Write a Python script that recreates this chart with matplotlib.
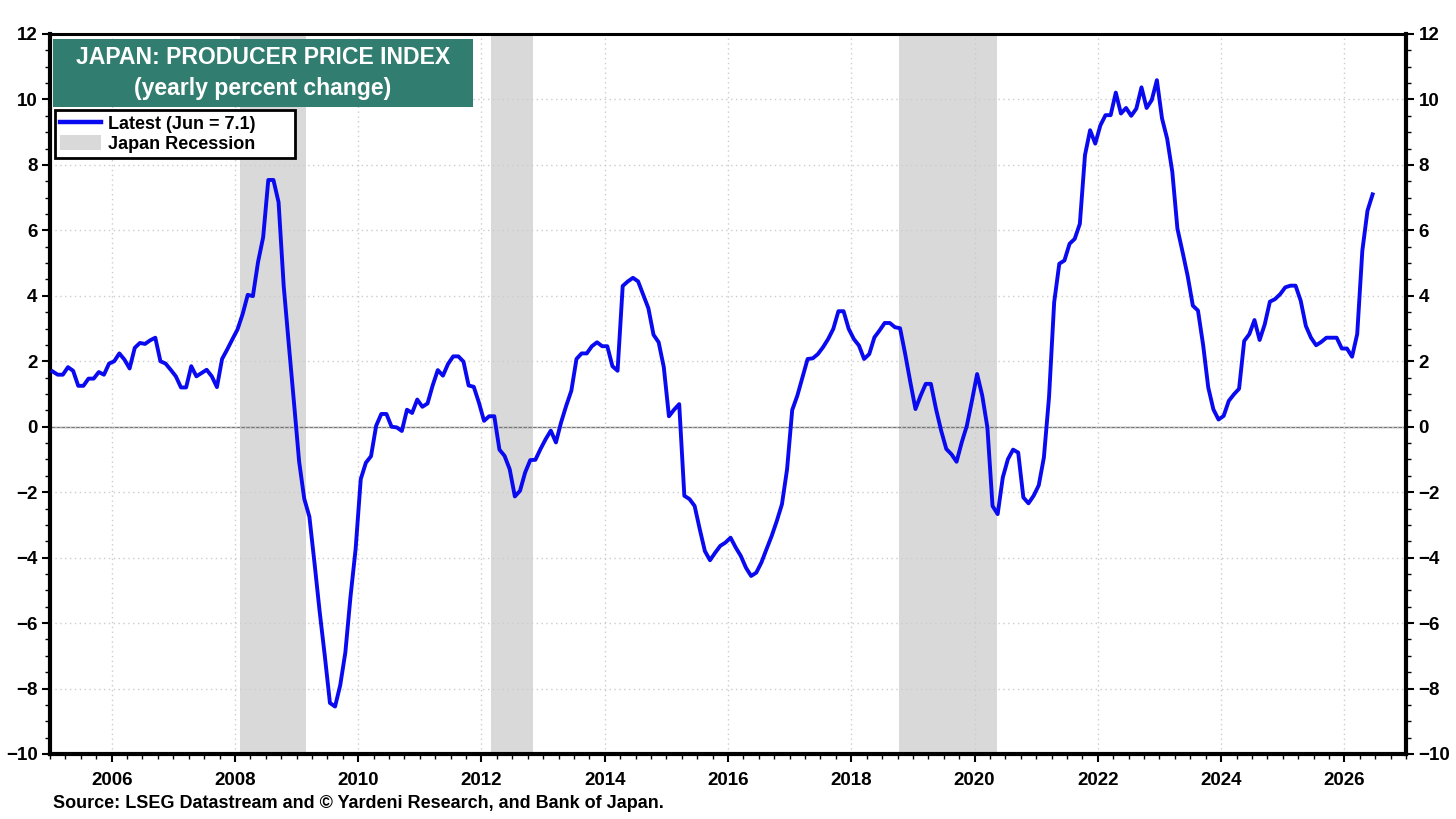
import numpy as np
import matplotlib
matplotlib.use("Agg")
import matplotlib.pyplot as plt
from matplotlib.patches import Patch, Rectangle
from matplotlib.lines import Line2D
from matplotlib.ticker import MultipleLocator

plt.rcParams["font.family"] = ["Liberation Sans", "DejaVu Sans"]
plt.rcParams["font.weight"] = "bold"

# monthly yearly % change, Jan 2005 .. Jun 2026
start_year = 2005
ppi_yoy = [
  1.69, 1.59, 1.59, 1.82, 1.71, 1.25, 1.25, 1.47, 1.47, 1.67, 1.59, 1.93,
  2.00, 2.24, 2.05, 1.78, 2.41, 2.56, 2.53, 2.64, 2.72, 2.00, 1.93, 1.74,
  1.54, 1.20, 1.20, 1.85, 1.54, 1.64, 1.74, 1.54, 1.21, 2.07, 2.36, 2.67,
  2.97, 3.44, 4.03, 3.99, 5.03, 5.79, 7.54, 7.54, 6.86, 4.30, 2.50, 0.74,
  -1.06, -2.20, -2.75, -4.17, -5.65, -7.00, -8.44, -8.55, -7.90, -6.90, -5.20, -3.74,
  -1.60, -1.10, -0.90, 0.03, 0.39, 0.39, 0.00, -0.02, -0.13, 0.52, 0.42, 0.83,
  0.61, 0.71, 1.26, 1.73, 1.56, 1.92, 2.15, 2.15, 1.99, 1.26, 1.22, 0.74,
  0.18, 0.32, 0.32, -0.70, -0.89, -1.30, -2.13, -1.96, -1.40, -1.02, -1.01, -0.68,
  -0.38, -0.12, -0.48, 0.13, 0.64, 1.10, 2.07, 2.24, 2.24, 2.46, 2.58, 2.46,
  2.46, 1.85, 1.71, 4.30, 4.44, 4.55, 4.44, 4.03, 3.62, 2.81, 2.58, 1.82,
  0.32, 0.52, 0.69, -2.11, -2.21, -2.42, -3.13, -3.80, -4.08, -3.85, -3.64, -3.54,
  -3.39, -3.69, -3.95, -4.31, -4.56, -4.46, -4.15, -3.74, -3.34, -2.88, -2.37, -1.30,
  0.51, 0.95, 1.51, 2.07, 2.09, 2.22, 2.43, 2.68, 2.99, 3.53, 3.53, 2.99,
  2.68, 2.48, 2.07, 2.22, 2.73, 2.94, 3.17, 3.17, 3.04, 3.01, 2.22, 1.36,
  0.54, 0.95, 1.31, 1.31, 0.54, -0.12, -0.68, -0.84, -1.07, -0.48, 0.03, 0.80,
  1.61, 0.95, -0.02, -2.42, -2.67, -1.55, -0.99, -0.70, -0.79, -2.16, -2.34, -2.11,
  -1.79, -0.94, 0.90, 3.80, 4.98, 5.08, 5.59, 5.74, 6.20, 8.30, 9.06, 8.65,
  9.21, 9.52, 9.52, 10.21, 9.57, 9.74, 9.50, 9.72, 10.37, 9.74, 9.98, 10.59,
  9.42, 8.80, 7.79, 6.05, 5.34, 4.60, 3.70, 3.55, 2.50, 1.20, 0.53, 0.22,
  0.33, 0.79, 0.99, 1.16, 2.62, 2.83, 3.26, 2.65, 3.13, 3.82, 3.90, 4.05,
  4.26, 4.31, 4.31, 3.85, 3.08, 2.72, 2.49, 2.59, 2.72, 2.72, 2.72, 2.39,
  2.39, 2.14, 2.83, 5.38, 6.60, 7.10,
]

# recession periods (decimal years)
recession_start = [2008.08, 2012.16, 2018.78]
recession_end = [2009.15, 2012.83, 2020.36]

year_ticks = list(range(2006, 2027, 2))
y_ticks = list(range(-10, 13, 2))

x = start_year + (np.arange(len(ppi_yoy)) + 0.5) / 12.0

W, H = 1456, 819
fig = plt.figure(figsize=(W / 100, H / 100), dpi=100)
ax = fig.add_axes([50 / W, 1 - 754 / H, 1356 / W, 720 / H])

def px(xp, yp):
  # figure pixel -> axes fraction
  return (xp - 50) / 1356, (754 - yp) / 720

for s, e in zip(recession_start, recession_end):
  ax.axvspan(s, e, color="#d9d9d9", lw=0, zorder=0)

ax.axhline(0, color="#777777", lw=1.0, zorder=1)
ax.plot(x, ppi_yoy, color="#0a0af0", lw=2.8, zorder=3, solid_joinstyle="round")

ax.set_xlim(2005, 2027)
ax.set_ylim(-10, 12)
ax.set_xticks(year_ticks)
ax.xaxis.set_minor_locator(MultipleLocator(0.25))
ax.set_yticks(y_ticks)
ax.yaxis.set_minor_locator(MultipleLocator(0.5))
ax.grid(True, which="major", color="#cccccc", ls=(0, (1, 2.5)), lw=1.0, zorder=0)

ax.tick_params(axis="both", which="major", labelsize=13.5, width=1.5, length=6, direction="out")
ax.tick_params(axis="both", which="minor", width=1.0, length=3.5, direction="out")
ax.tick_params(axis="y", which="both", left=True, right=True, labelleft=True, labelright=True, pad=3)
ax.tick_params(axis="x", which="major", pad=7)
for lab in ax.get_xticklabels() + ax.get_yticklabels():
  lab.set_fontweight("bold")
for lab in ax.yaxis.get_ticklabels(which="major"):
  lab.set_fontweight("bold")

for side, w in [("left", 3.0), ("bottom", 3.0), ("right", 3.0), ("top", 2.2)]:
  ax.spines[side].set_linewidth(w)
  ax.spines[side].set_color("black")

# title box
x0, y0 = px(53, 107)
x1, y1 = px(473, 39)
ax.add_patch(Rectangle((x0, y0), x1 - x0, y1 - y0, transform=ax.transAxes,
                       fc="#317d70", ec="none", zorder=6))
ax.text(*px(263, 57), "JAPAN: PRODUCER PRICE INDEX", transform=ax.transAxes,
        ha="center", va="center", color="white", fontsize=16.6, fontweight="bold", zorder=7)
ax.text(*px(263, 89), "(yearly percent change)", transform=ax.transAxes,
        ha="center", va="center", color="white", fontsize=16.6, fontweight="bold", zorder=7)

# legend box, fixed width like the reference
lx0, ly0 = px(55, 158)
lx1, ly1 = px(295, 110)
handles = [
  Line2D([0], [0], color="#0a0af0", lw=3.2),
  Patch(facecolor="#d9d9d9", edgecolor="none"),
]
leg = ax.legend(
  handles, ["Latest (Jun = 7.1)", "Japan Recession"],
  loc="upper left", bbox_to_anchor=(lx0, ly0, lx1 - lx0, ly1 - ly0), mode="expand",
  borderaxespad=0, fancybox=False, framealpha=1, edgecolor="black",
  prop={"weight": "bold", "size": 13.0}, handlelength=2.25, handleheight=0.9,
  labelspacing=0.1, borderpad=0.3, handletextpad=0.4,
)
leg.get_frame().set_linewidth(2.0)
leg.set_zorder(8)

fig.text(53 / W, 1 - 803 / H,
         "Source: LSEG Datastream and \u00a9 Yardeni Research, and Bank of Japan.",
         ha="left", va="center", fontsize=13, fontweight="bold")

fig.savefig("out.png", dpi=100)
